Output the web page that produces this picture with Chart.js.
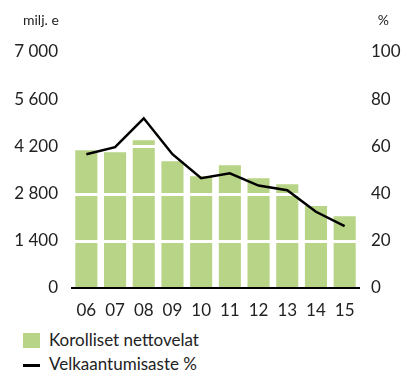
<!DOCTYPE html>
<html>
<head>
<meta charset="utf-8">
<script src="https://cdn.jsdelivr.net/npm/chart.js@4/dist/chart.umd.min.js"></script>
<style>
  html, body { margin: 0; padding: 0; background: #fff; }
  #wrap { position: relative; width: 417px; height: 376px; font-family: Lato, sans-serif; color: #222; }
  #chart { position: absolute; left: 0; top: 0; }
  .lg { position: absolute; left: 23px; font-size: 17px; line-height: 20px; }
  .lg .sw { position: absolute; left: 0; }
  .lg span.t { position: absolute; left: 26px; top: 0; white-space: nowrap; }
</style>
</head>
<body>
<div id="wrap">
  <canvas id="chart" width="417" height="320"></canvas>
  <div class="lg" style="top:330px"><div class="sw" style="top:3px;width:17px;height:15px;background:#b8d587"></div><span class="t">Korolliset nettovelat</span></div>
  <div class="lg" style="top:354px"><div class="sw" style="top:10px;width:17px;height:3px;background:#000"></div><span class="t">Velkaantumisaste %</span></div>
</div>
<script>
const years = ['06', '07', '08', '09', '10', '11', '12', '13', '14', '15']
// interest-bearing net debt, milj. e
const netDebt = [4085, 4025, 4380, 3760, 3315, 3640, 3255, 3080, 2430, 2130]
// gearing, %
const gearing = [56.7, 59.7, 71.9, 56.7, 46.5, 48.6, 43.4, 41.4, 32.3, 26.2]

const FONT = { family: 'Lato, sans-serif', size: 17 }
const INK = '#222'

const fmtThousands = v => String(v).replace(/\B(?=(\d{3})+(?!\d))/g, ' ')

// axis unit captions above the top tick labels
const unitLabels = {
    id: 'unitLabels',
    afterDraw(chart) {
        const { ctx } = chart
        ctx.save()
        ctx.font = '14px Lato, sans-serif'
        ctx.fillStyle = INK
        ctx.textBaseline = 'middle'
        ctx.textAlign = 'left'
        ctx.fillText('milj. e', 23, 20)
        ctx.textAlign = 'right'
        ctx.fillText('%', 389, 20)
        ctx.restore()
    },
}

// white gridlines cut through the bars but stay under the line
const barGrid = {
    id: 'barGrid',
    afterDatasetDraw(chart, args) {
        if (chart.data.datasets[args.index].type !== 'bar') return
        const { ctx, chartArea } = chart
        const y = chart.scales.y
        ctx.save()
        ctx.strokeStyle = '#fff'
        ctx.lineWidth = 3
        y.ticks.forEach(t => {
            if (t.value === 0) return
            const py = Math.round(y.getPixelForValue(t.value)) + 0.5
            ctx.beginPath()
            ctx.moveTo(chartArea.left, py)
            ctx.lineTo(chartArea.right, py)
            ctx.stroke()
        })
        ctx.restore()
    },
}

new Chart(document.getElementById('chart'), {
    data: {
        labels: years,
        datasets: [
            {
                type: 'line',
                label: 'Velkaantumisaste %',
                data: gearing,
                yAxisID: 'yr',
                borderColor: '#000',
                borderWidth: 2.5,
                pointRadius: 0,
                tension: 0,
                order: 0,
            },
            {
                type: 'bar',
                label: 'Korolliset nettovelat',
                data: netDebt,
                yAxisID: 'y',
                backgroundColor: '#b8d587',
                categoryPercentage: 0.77,
                barPercentage: 1,
                order: 1,
            },
        ],
    },
    options: {
        responsive: false,
        animation: false,
        layout: { padding: { top: 52, left: 0, right: 0, bottom: 0 } },
        plugins: {
            legend: { display: false },
            tooltip: { enabled: false },
        },
        scales: {
            x: {
                grid: { display: false },
                border: { display: true, color: '#000', width: 2, z: 2 },
                ticks: { color: INK, font: FONT, padding: 4, maxRotation: 0 },
                afterFit: s => { s.height = 32 },
            },
            y: {
                position: 'left',
                min: 0,
                max: 7000,
                grid: { display: false },
                border: { display: false },
                ticks: {
                    stepSize: 1400,
                    color: INK,
                    font: FONT,
                    padding: 6,
                    callback: v => fmtThousands(v),
                },
                afterFit: s => { s.width = 72 },
            },
            yr: {
                position: 'right',
                min: 0,
                max: 100,
                grid: { display: false },
                border: { display: false },
                ticks: { stepSize: 20, color: INK, font: FONT, padding: 4 },
                afterFit: s => { s.width = 58 },
            },
        },
    },
    plugins: [unitLabels, barGrid],
})
</script>
</body>
</html>
